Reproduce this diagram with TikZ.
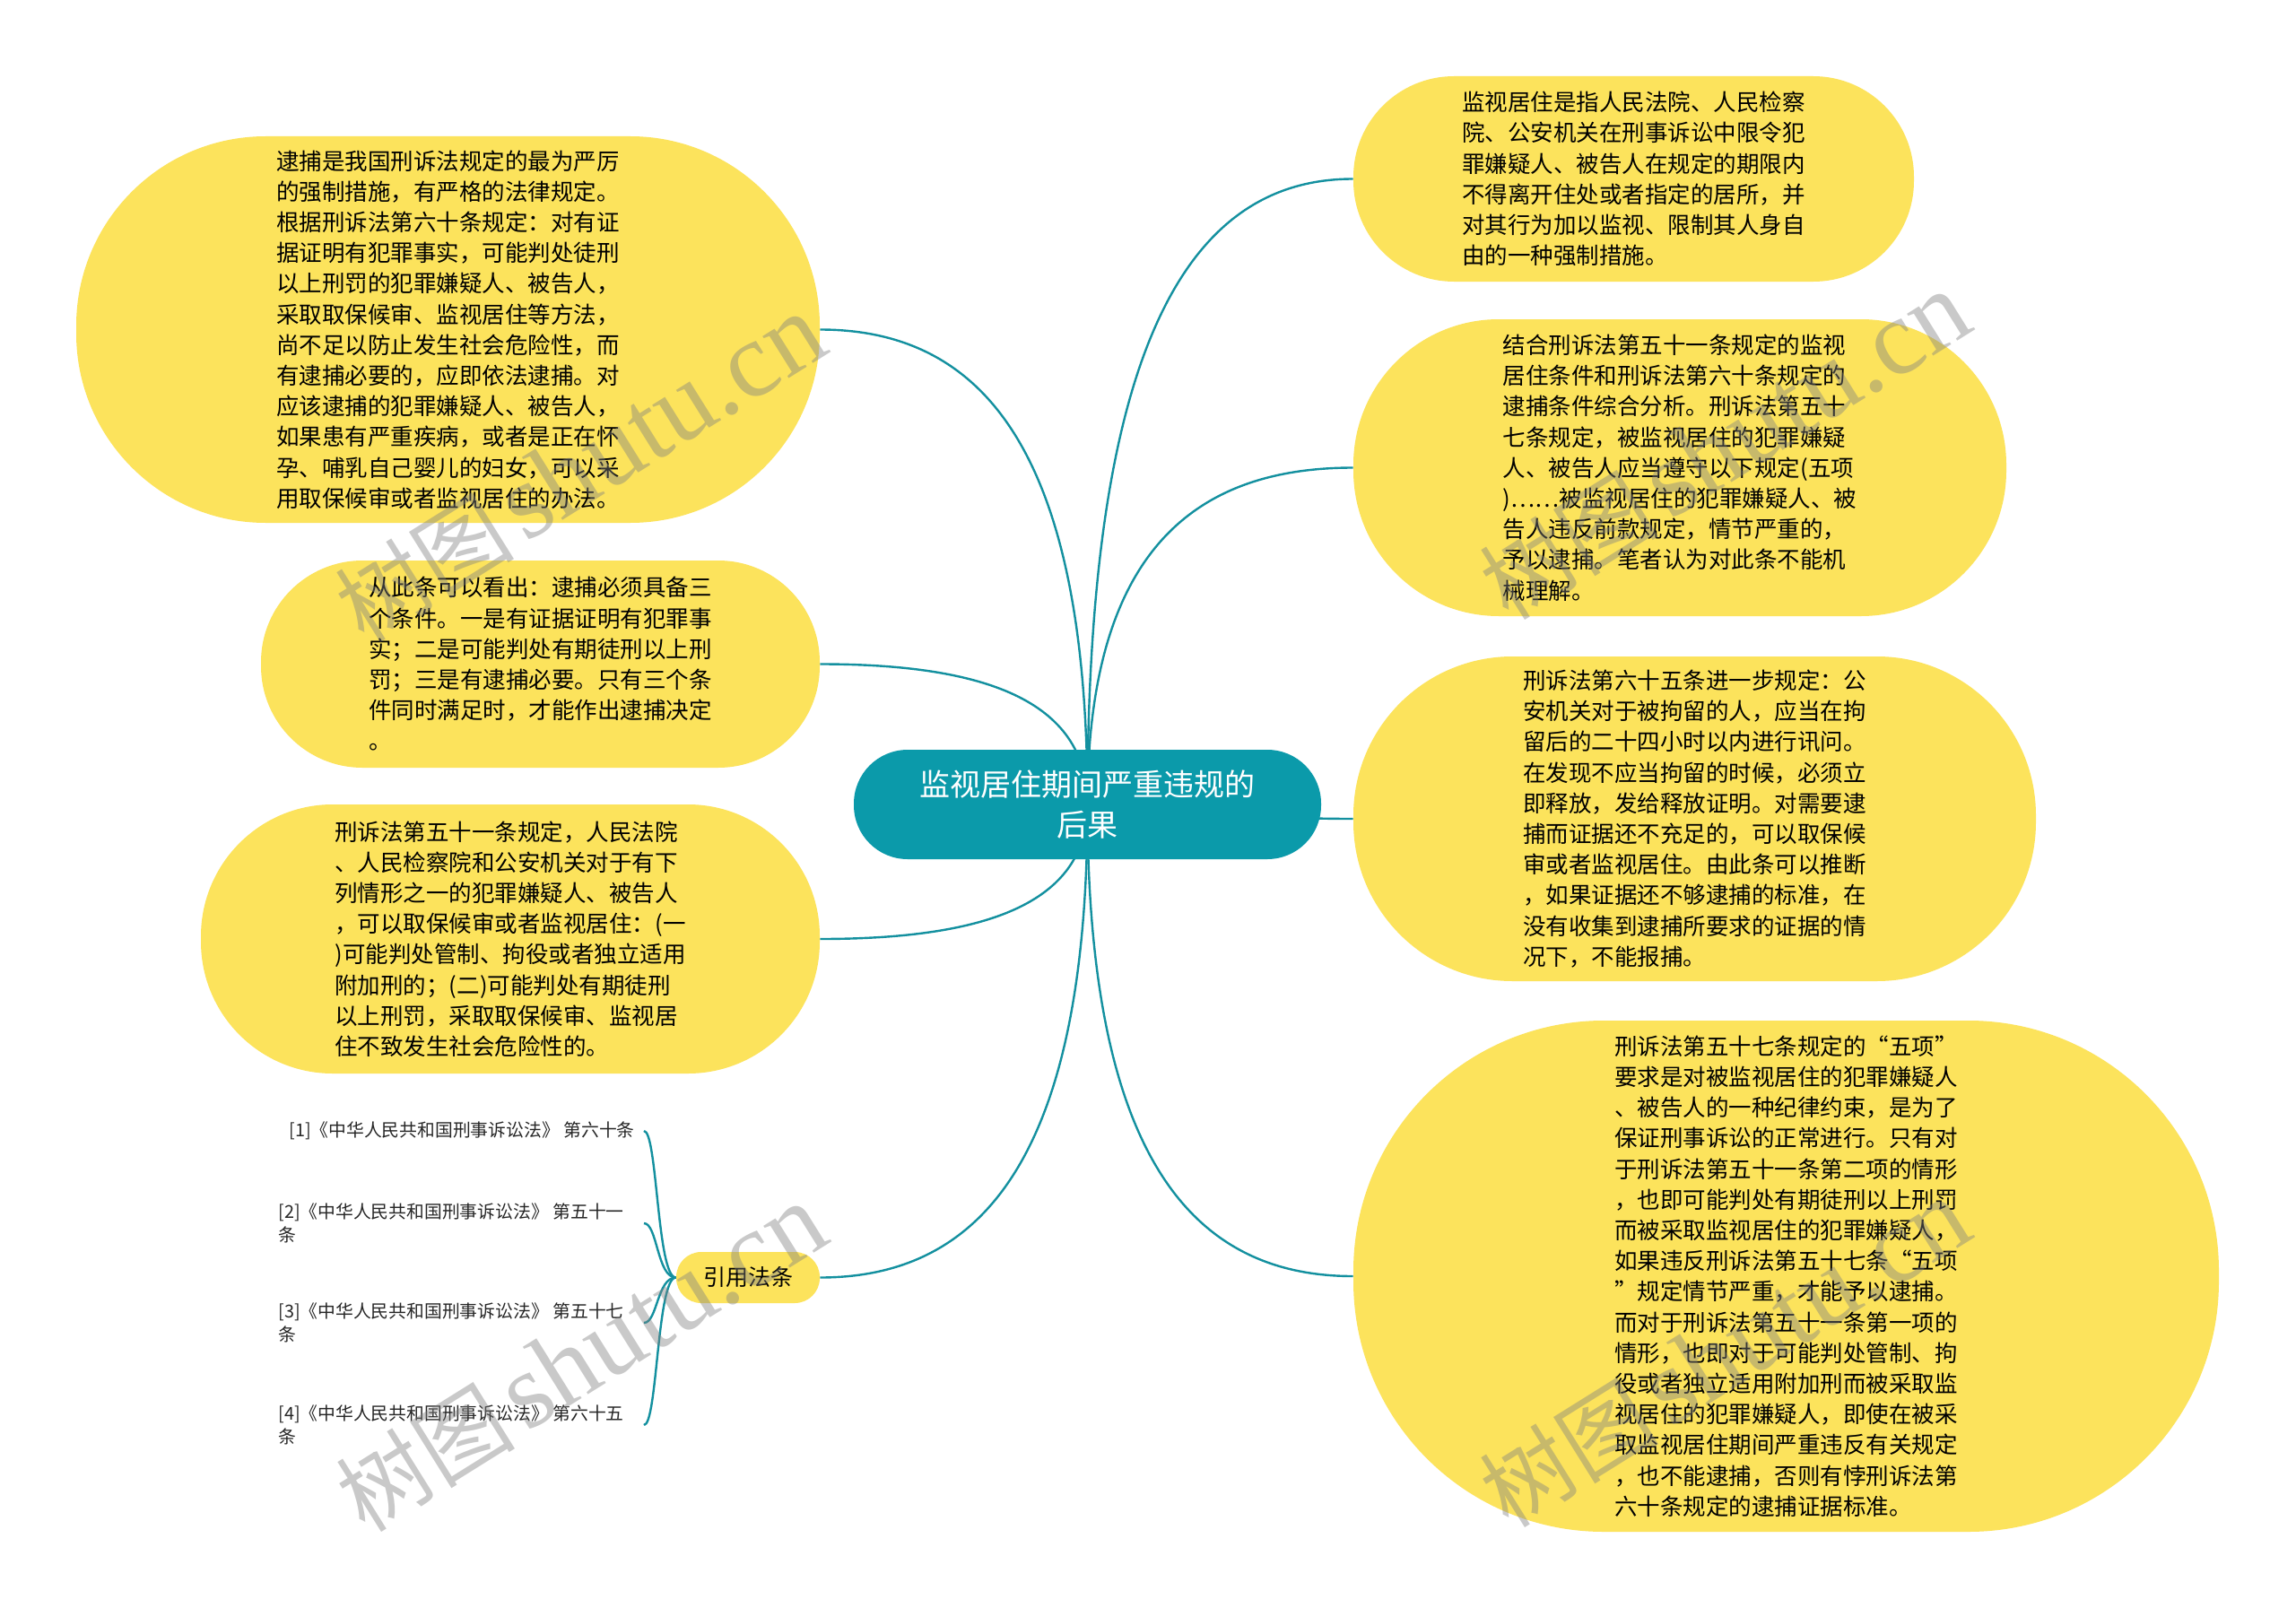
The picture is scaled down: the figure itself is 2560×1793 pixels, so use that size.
\documentclass[tikz,border=0pt]{standalone}
\usepackage{fontspec}
\setmainfont{Noto Sans CJK SC}
\newfontfamily\cjk{Noto Sans CJK SC}
\newfontfamily\wmserif{Liberation Serif}
\usetikzlibrary{backgrounds}
\definecolor{yel}{HTML}{FCE35C}
\definecolor{tealc}{HTML}{0B9AAA}
\definecolor{tline}{HTML}{13909F}
\newcommand\mmbody{\cjk\fontsize{12.75pt}{17.1pt}\selectfont}
\newcommand\mmitem{\cjk\fontsize{9.9pt}{13pt}\selectfont}
\newcommand\mmcenter{\cjk\fontsize{17pt}{22.9pt}\selectfont}
\begin{document}
\begin{tikzpicture}[x=0.5pt,y=-0.5pt,
  ybox/.style 2 args={shape=rectangle, fill=yel, minimum width=#1*0.5pt, minimum height=#2*0.5pt,
     rounded corners=#2*0.245pt, inner sep=0pt, align=left, font=\mmbody, text=black},
  central/.style={shape=rectangle, fill=tealc, minimum width=521*0.5pt, minimum height=122*0.5pt,
     rounded corners=30pt, inner sep=0pt, align=center, font=\mmcenter, text=white},
  itemtext/.style={inner sep=0pt, align=left, font=\mmitem, text=black!85},
  conn/.style={draw=tline, line width=1.2pt},
  wm/.style={rotate=32, text=gray, text opacity=0.42, inner sep=0pt}]
\useasboundingbox (0,0) rectangle (2560,1793);

% central
\node[central] (c) at (1212.5,897) {监视居住期间严重违规的\\后果};

% left nodes
\node[ybox={829}{431}] (n1) at (499.5,367.5) {逮捕是我国刑诉法规定的最为严厉\\的强制措施，有严格的法律规定。\\根据刑诉法第六十条规定：对有证\\据证明有犯罪事实，可能判处徒刑\\以上刑罚的犯罪嫌疑人、被告人，\\采取取保候审、监视居住等方法，\\尚不足以防止发生社会危险性，而\\有逮捕必要的，应即依法逮捕。对\\应该逮捕的犯罪嫌疑人、被告人，\\如果患有严重疾病，或者是正在怀\\孕、哺乳自己婴儿的妇女，可以采\\用取保候审或者监视居住的办法。};
\node[ybox={623}{231}] (n2) at (602.5,740.5) {从此条可以看出：逮捕必须具备三\\个条件。一是有证据证明有犯罪事\\实；二是可能判处有期徒刑以上刑\\罚；三是有逮捕必要。只有三个条\\件同时满足时，才能作出逮捕决定\\。};
\node[ybox={690}{300}] (n3) at (569,1047) {刑诉法第五十一条规定，人民法院\\、人民检察院和公安机关对于有下\\列情形之一的犯罪嫌疑人、被告人\\，可以取保候审或者监视居住：(一\\)可能判处管制、拘役或者独立适用\\附加刑的；(二)可能判处有期徒刑\\以上刑罚，采取取保候审、监视居\\住不致发生社会危险性的。};
\node[ybox={160}{57}, font=\cjk\fontsize{12.5pt}{15pt}\selectfont, align=center] (cite) at (834,1424.5) {引用法条};

% right nodes
\node[ybox={625}{229}] (r1) at (1821.5,199.5) {监视居住是指人民法院、人民检察\\院、公安机关在刑事诉讼中限令犯\\罪嫌疑人、被告人在规定的期限内\\不得离开住处或者指定的居所，并\\对其行为加以监视、限制其人身自\\由的一种强制措施。};
\node[ybox={728}{331}] (r2) at (1873,521.5) {结合刑诉法第五十一条规定的监视\\居住条件和刑诉法第六十条规定的\\逮捕条件综合分析。刑诉法第五十\\七条规定，被监视居住的犯罪嫌疑\\人、被告人应当遵守以下规定(五项\\)……被监视居住的犯罪嫌疑人、被\\告人违反前款规定，情节严重的，\\予以逮捕。笔者认为对此条不能机\\械理解。};
\node[ybox={761}{362}] (r3) at (1889.5,913) {刑诉法第六十五条进一步规定：公\\安机关对于被拘留的人，应当在拘\\留后的二十四小时以内进行讯问。\\在发现不应当拘留的时候，必须立\\即释放，发给释放证明。对需要逮\\捕而证据还不充足的，可以取保候\\审或者监视居住。由此条可以推断\\，如果证据还不够逮捕的标准，在\\没有收集到逮捕所要求的证据的情\\况下，不能报捕。};
\node[ybox={965}{570}] (r4) at (1991.5,1423) {刑诉法第五十七条规定的“五项”\\要求是对被监视居住的犯罪嫌疑人\\、被告人的一种纪律约束，是为了\\保证刑事诉讼的正常进行。只有对\\于刑诉法第五十一条第二项的情形\\，也即可能判处有期徒刑以上刑罚\\而被采取监视居住的犯罪嫌疑人，\\如果违反刑诉法第五十七条“五项\\”规定情节严重，才能予以逮捕。\\而对于刑诉法第五十一条第一项的\\情形，也即对于可能判处管制、拘\\役或者独立适用附加刑而被采取监\\视居住的犯罪嫌疑人，即使在被采\\取监视居住期间严重违反有关规定\\，也不能逮捕，否则有悖刑诉法第\\六十条规定的逮捕证据标准。};

% cited items
\node[itemtext, anchor=west] (i1) at (322,1261) {[1]《中华人民共和国刑事诉讼法》 第六十条};
\node[itemtext, anchor=west] (i2) at (310,1364) {[2]《中华人民共和国刑事诉讼法》 第五十一\\条};
\node[itemtext, anchor=west] (i3) at (310,1475) {[3]《中华人民共和国刑事诉讼法》 第五十七\\条};
\node[itemtext, anchor=west] (i4) at (310,1589) {[4]《中华人民共和国刑事诉讼法》 第六十五\\条};
\coordinate (b1) at (718,1261);
\coordinate (b2) at (718,1364);
\coordinate (b3) at (718,1475);
\coordinate (b4) at (718,1589);

\begin{scope}[on background layer]
  \fill[white] (0,0) rectangle (2560,1793);
  \draw[conn] (c.center) .. controls +(0,-398) and +(179,0) .. (n1.east);
  \draw[conn] (c.center) .. controls +(0,-118) and +(179,0) .. (n2.east);
  \draw[conn] (c.center) .. controls +(0,113) and +(179,0) .. (n3.east);
  \draw[conn] (c.center) .. controls +(0,395) and +(179,0) .. (cite.east);
  \draw[conn] (c.center) .. controls +(0,-524) and +(-178,0) .. (r1.west);
  \draw[conn] (c.center) .. controls +(0,-281) and +(-178,0) .. (r2.west);
  \draw[conn] (c.center) .. controls +(150,0) and +(-150,0) .. (r3.west);
  \draw[conn] (c.center) .. controls +(0,395) and +(-178,0) .. (r4.west);
  \draw[conn] (cite.west) .. controls +(-21,0) and +(15,0) .. (b1);
  \draw[conn] (cite.west) .. controls +(-21,0) and +(15,0) .. (b2);
  \draw[conn] (cite.west) .. controls +(-21,0) and +(15,0) .. (b3);
  \draw[conn] (cite.west) .. controls +(-21,0) and +(15,0) .. (b4);
\end{scope}

% watermarks
\node[wm] (w1) at (647,523) {\cjk\fontsize{50pt}{50pt}\selectfont 树图\hspace{6pt}\wmserif\fontsize{60pt}{60pt}\selectfont shutu.cn};
\node[wm] (w2) at (1923,498) {\cjk\fontsize{50pt}{50pt}\selectfont 树图\hspace{6pt}\wmserif\fontsize{60pt}{60pt}\selectfont shutu.cn};
\node[wm] (w3) at (648,1515) {\cjk\fontsize{50pt}{50pt}\selectfont 树图\hspace{6pt}\wmserif\fontsize{60pt}{60pt}\selectfont shutu.cn};
\node[wm] (w4) at (1923,1510) {\cjk\fontsize{50pt}{50pt}\selectfont 树图\hspace{6pt}\wmserif\fontsize{60pt}{60pt}\selectfont shutu.cn};
\end{tikzpicture}
\end{document}
